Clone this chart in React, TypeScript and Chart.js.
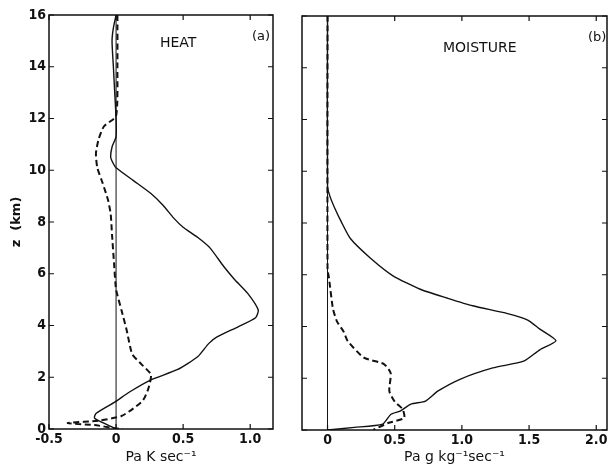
import React, { useEffect, useRef } from "react";
import { Chart, registerables } from "chart.js";

Chart.register(...registerables);

// ---------- data ----------
const zTicks = [0, 2, 4, 6, 8, 10, 12, 14, 16];
const heatXTicks = [-0.5, 0, 0.5, 1.0];
const moistXTicks = [0, 0.5, 1.0, 1.5, 2.0];

// Panel (a) HEAT, solid curve (value, height km), top to bottom
const heatSolidX = [0.0, -0.02, -0.03, -0.02, -0.01, 0.0, 0.0, -0.03, -0.04, -0.02, 0.0, 0.13, 0.26, 0.35, 0.43, 0.5, 0.61, 0.7, 0.8, 0.88, 0.98, 1.06, 1.04, 0.91, 0.75, 0.69, 0.61, 0.46, 0.26, 0.1, -0.01, -0.15, -0.16, -0.06, 0.0];
const heatSolidZ = [16, 15.5, 15, 14, 13, 12, 11.3, 10.9, 10.5, 10.25, 10.1, 9.6, 9.1, 8.65, 8.15, 7.8, 7.4, 7.0, 6.3, 5.8, 5.25, 4.6, 4.3, 3.95, 3.55, 3.3, 2.8, 2.3, 1.9, 1.43, 1.04, 0.6, 0.42, 0.15, 0.0];

// Panel (a) HEAT, dashed curve
const heatDashX = [0.01, 0.01, 0.0, -0.09, -0.13, -0.15, -0.14, -0.1, -0.06, -0.04, -0.03, -0.015, 0.0, 0.04, 0.08, 0.12, 0.19, 0.26, 0.24, 0.2, 0.13, 0.04, -0.13, -0.36, -0.16, -0.01, 0.05];
const heatDashZ = [16, 14, 12.1, 11.7, 11.2, 10.65, 10.1, 9.5, 8.85, 8.3, 7.5, 6.4, 5.4, 4.6, 3.8, 2.9, 2.5, 2.1, 1.55, 1.1, 0.8, 0.5, 0.32, 0.23, 0.15, 0.03, 0.0];

// Panel (b) MOISTURE, solid curve
const moistSolidX = [0.0, 0.0, 0.02, 0.06, 0.1, 0.17, 0.32, 0.49, 0.69, 0.89, 1.08, 1.34, 1.49, 1.58, 1.7, 1.58, 1.46, 1.23, 0.99, 0.82, 0.73, 0.62, 0.54, 0.47, 0.41, 0.2, 0.0];
const moistSolidZ = [16, 9.4, 9.0, 8.5, 8.07, 7.4, 6.64, 5.95, 5.44, 5.1, 4.8, 4.5, 4.25, 3.9, 3.45, 3.1, 2.66, 2.4, 1.97, 1.5, 1.12, 1.0, 0.73, 0.6, 0.23, 0.1, 0.0];

// Panel (b) MOISTURE, dashed curve
const moistDashX = [0.0, 0.0, 0.01, 0.04, 0.07, 0.12, 0.15, 0.27, 0.42, 0.47, 0.46, 0.5, 0.56, 0.57, 0.45, 0.34];
const moistDashZ = [16, 6.2, 5.9, 4.7, 4.2, 3.8, 3.44, 2.8, 2.55, 2.2, 1.5, 1.1, 0.8, 0.46, 0.27, 0.0];

const pts = (xs: number[], zs: number[]) => xs.map((x, i) => ({ x, y: zs[i] }));

const tickFont = { family: "'DejaVu Sans Condensed', 'Liberation Sans Narrow', sans-serif", size: 14, weight: "bold" } as any;
const titleFamily = "'DejaVu Sans', sans-serif";
const fmt = (v: number) => (v === 0 ? "0" : v.toFixed(1));

const framePlugin = {
  id: "frame",
  beforeDatasetsDraw(chart: any) {
    const { ctx, chartArea: a, scales } = chart;
    const x0 = scales.x.getPixelForValue(0);
    ctx.save();
    ctx.strokeStyle = "#111";
    ctx.lineWidth = 1;
    ctx.beginPath();
    ctx.moveTo(x0, a.top);
    ctx.lineTo(x0, a.bottom);
    ctx.stroke();
    ctx.restore();
  },
  afterDatasetsDraw(chart: any, _args: any, opts: any) {
    const { ctx, chartArea: a, scales } = chart;
    const xs = scales.x, ys = scales.y;
    ctx.save();
    ctx.strokeStyle = "#111";
    ctx.lineWidth = 1.2;
    ctx.beginPath();
    for (const t of xs.ticks) {
      const px = xs.getPixelForValue(t.value);
      ctx.moveTo(px, a.bottom);
      ctx.lineTo(px, a.bottom - 5);
      ctx.moveTo(px, a.top);
      ctx.lineTo(px, a.top + 5);
    }
    for (const t of ys.ticks) {
      const py = ys.getPixelForValue(t.value);
      ctx.moveTo(a.left, py);
      ctx.lineTo(a.left + 5, py);
      ctx.moveTo(a.right, py);
      ctx.lineTo(a.right - 5, py);
    }
    ctx.stroke();
    ctx.lineWidth = 1.5;
    ctx.strokeRect(a.left, a.top, a.right - a.left, a.bottom - a.top);
    ctx.fillStyle = "#111";
    ctx.textBaseline = "alphabetic";
    ctx.textAlign = "left";
    for (const l of opts.labels || []) {
      ctx.font = l.font;
      ctx.fillText(l.text, l.x, l.y);
    }
    ctx.restore();
  },
};

interface PanelProps {
  width: number;
  solidX: number[];
  solidZ: number[];
  dashX: number[];
  dashZ: number[];
  xMin: number;
  xMax: number;
  xTicks: number[];
  xTitle: string;
  showYLabels: boolean;
  yWidth: number;
  xHeight: number;
  padTop: number;
  padRight: number;
  labels: { text: string; x: number; y: number; font: string }[];
}

function Panel(p: PanelProps) {
  const ref = useRef<HTMLCanvasElement | null>(null);
  useEffect(() => {
    if (!ref.current) return;
    const chart = new Chart(ref.current, {
      type: "scatter",
      data: {
        datasets: [
          {
            data: pts(p.solidX, p.solidZ),
            showLine: true,
            borderColor: "#111",
            borderWidth: 1.4,
            pointRadius: 0,
            tension: 0.2,
          },
          {
            data: pts(p.dashX, p.dashZ),
            showLine: true,
            borderColor: "#111",
            borderWidth: 2,
            borderDash: [6, 3.5],
            pointRadius: 0,
            tension: 0.2,
          },
        ],
      },
      options: {
        responsive: false,
        maintainAspectRatio: false,
        animation: false,
        devicePixelRatio: 1,
        layout: { padding: { left: 0, top: p.padTop, right: p.padRight, bottom: 0 } },
        plugins: {
          legend: { display: false },
          tooltip: { enabled: false },
          frame: { labels: p.labels },
        } as any,
        scales: {
          x: {
            type: "linear",
            min: p.xMin,
            max: p.xMax,
            afterBuildTicks: (s: any) => {
              s.ticks = p.xTicks.map((v) => ({ value: v }));
            },
            afterFit: (s: any) => {
              s.height = p.xHeight;
            },
            grid: { display: false, drawTicks: false },
            border: { display: false },
            ticks: {
              color: "#111",
              font: tickFont,
              padding: 2,
              maxRotation: 0,
              autoSkip: false,
              callback: (v: any) => fmt(Number(v)),
            },
            title: {
              display: true,
              text: p.xTitle,
              color: "#111",
              font: { family: titleFamily, size: 14 },
              padding: { top: 0, bottom: 4 },
            },
          },
          y: {
            type: "linear",
            min: 0,
            max: 16,
            afterBuildTicks: (s: any) => {
              s.ticks = zTicks.map((v) => ({ value: v }));
            },
            afterFit: (s: any) => {
              s.width = p.yWidth;
            },
            grid: { display: false, drawTicks: false },
            border: { display: false },
            ticks: {
              display: p.showYLabels,
              color: "#111",
              font: tickFont,
              padding: 3,
              callback: (v: any) => String(v),
            },
            title: {
              display: p.showYLabels,
              text: "z  (km)",
              color: "#111",
              font: { family: titleFamily, size: 13, weight: "bold" },
              padding: { top: 9, bottom: 0 },
            },
          },
        },
      },
      plugins: [framePlugin as any],
    });
    return () => chart.destroy();
  }, []);
  return <canvas ref={ref} width={p.width} height={470} style={{ display: "block", width: p.width, height: 470 }} />;
}

export default function App() {
  return (
    <div style={{ position: "fixed", left: 0, top: 0, width: 614, height: 470, background: "#fff", display: "flex" }}>
      <Panel
        width={290}
        solidX={heatSolidX}
        solidZ={heatSolidZ}
        dashX={heatDashX}
        dashZ={heatDashZ}
        xMin={-0.5}
        xMax={1.17}
        xTicks={heatXTicks}
        xTitle="Pa K sec⁻¹"
        showYLabels={true}
        yWidth={49}
        xHeight={41}
        padTop={15}
        padRight={17}
        labels={[
          { text: "HEAT", x: 160, y: 47, font: "14px 'DejaVu Sans', sans-serif" },
          { text: "(a)", x: 252, y: 40, font: "13px 'DejaVu Sans', sans-serif" },
        ]}
      />
      <Panel
        width={324}
        solidX={moistSolidX}
        solidZ={moistSolidZ}
        dashX={moistDashX}
        dashZ={moistDashZ}
        xMin={-0.19}
        xMax={2.08}
        xTicks={moistXTicks}
        xTitle="Pa g kg⁻¹sec⁻¹"
        showYLabels={false}
        yWidth={12}
        xHeight={40}
        padTop={16}
        padRight={7}
        labels={[
          { text: "MOISTURE", x: 153, y: 52, font: "14px 'DejaVu Sans', sans-serif" },
          { text: "(b)", x: 298, y: 41, font: "13px 'DejaVu Sans', sans-serif" },
        ]}
      />
    </div>
  );
}
